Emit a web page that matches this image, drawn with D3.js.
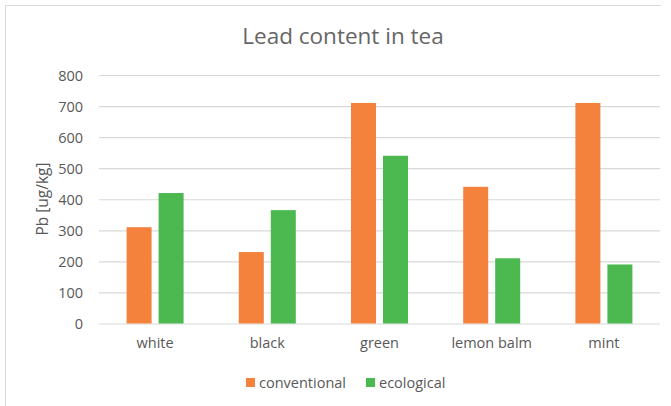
<!DOCTYPE html>
<html>
<head>
<meta charset="utf-8">
<script src="https://cdn.jsdelivr.net/npm/d3@7"></script>
<style>
  html, body { margin: 0; padding: 0; background: #fff; }
  svg { display: block; }
  text { font-family: "Open Sans", "Noto Sans", sans-serif; fill: #595959; }
</style>
</head>
<body>
<svg id="chart" width="671" height="406"></svg>
<script>
// Tea types and the two cultivation series (Pb, ug/kg)
const categories = ["white", "black", "green", "lemon balm", "mint"];
const seriesNames = ["conventional", "ecological"];
const conventional = [310, 230, 710, 440, 710];
const ecological = [420, 365, 540, 210, 190];
const yTicks = [0, 100, 200, 300, 400, 500, 600, 700, 800];
const colors = { conventional: "#F4813C", ecological: "#4BB850" };

const rows = categories.map((c, i) => ({ category: c, conventional: conventional[i], ecological: ecological[i] }));

const svg = d3.select("#chart");
const W = 671, H = 406;
const plot = { left: 99, right: 660, top: 75, bottom: 323.5 };

// Outer chart-area frame (left and top edges visible)
svg.append("path")
  .attr("d", `M5.5,${H} L5.5,5.5 L661,5.5`)
  .attr("fill", "none")
  .attr("stroke", "#d9d9d9")
  .attr("stroke-width", 1);

const x = d3.scaleBand()
  .domain(categories)
  .range([plot.left, plot.right])
  .paddingInner(0.492)
  .paddingOuter(0.246);

const xs = d3.scaleBand()
  .domain(seriesNames)
  .range([0, x.bandwidth()])
  .paddingInner(0.21875);

const y = d3.scaleLinear()
  .domain([0, 800])
  .range([plot.bottom, plot.top]);

// Horizontal gridlines + tick labels
const yAxis = d3.axisLeft(y)
  .tickValues(yTicks)
  .tickSize(-(plot.right - plot.left))
  .tickPadding(16);

const gy = svg.append("g")
  .attr("transform", `translate(${plot.left},0)`)
  .call(yAxis);
gy.select(".domain").remove();
gy.selectAll(".tick line").attr("stroke", "#d9d9d9").attr("stroke-width", 1.2);
gy.selectAll(".tick text")
  .attr("fill", "#595959")
  .style("font-size", "14.5px")
  .attr("dy", "0.35em");

// Bars
const groups = svg.append("g").selectAll("g")
  .data(rows)
  .join("g")
  .attr("transform", d => `translate(${x(d.category)},0)`);

groups.selectAll("rect")
  .data(d => seriesNames.map(k => ({ key: k, value: d[k] })))
  .join("rect")
  .attr("x", d => xs(d.key))
  .attr("width", xs.bandwidth())
  .attr("y", d => y(d.value))
  .attr("height", d => y(0) - y(d.value))
  .attr("fill", d => colors[d.key]);

// Category axis labels
const xAxis = d3.axisBottom(x).tickSize(0).tickPadding(14);
const gx = svg.append("g")
  .attr("transform", `translate(0,${plot.bottom})`)
  .call(xAxis);
gx.select(".domain").remove();
gx.selectAll(".tick text")
  .attr("fill", "#595959")
  .style("font-size", "14.5px");

// Title
svg.append("text")
  .attr("x", 343)
  .attr("y", 44)
  .attr("text-anchor", "middle")
  .style("font-size", "22.5px")
  .style("fill", "#666666")
  .text("Lead content in tea");

// Y axis title
svg.append("text")
  .attr("transform", `translate(48,199) rotate(-90)`)
  .attr("text-anchor", "middle")
  .style("font-size", "15.5px")
  .text("Pb [ug/kg]");

// Legend
const legendItems = [
  { key: "conventional", x: 246 },
  { key: "ecological", x: 366 }
];
const lg = svg.append("g").selectAll("g")
  .data(legendItems)
  .join("g")
  .attr("transform", d => `translate(${d.x},378)`);
lg.append("rect")
  .attr("width", 9)
  .attr("height", 9)
  .attr("fill", d => colors[d.key]);
lg.append("text")
  .attr("x", 13)
  .attr("y", 4.5)
  .attr("dy", "0.35em")
  .style("font-size", "14.5px")
  .text(d => d.key);
</script>
</body>
</html>
